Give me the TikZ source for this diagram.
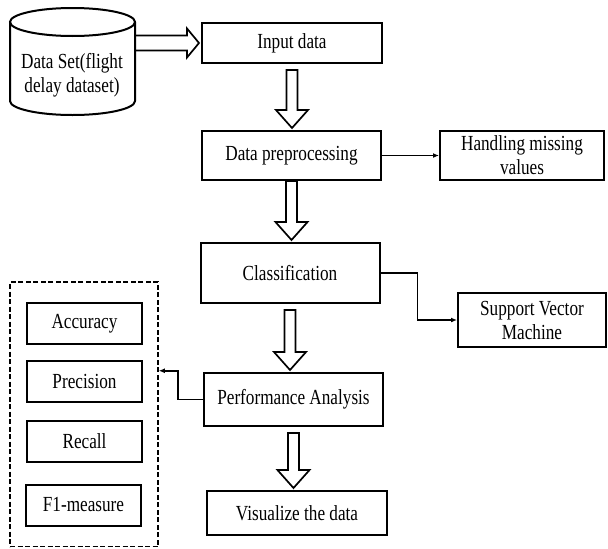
\documentclass[tikz,border=0pt]{standalone}
\usepackage{fontspec}
\setmainfont{Liberation Serif}[FakeStretch=0.8]
\usetikzlibrary{arrows.meta,calc,positioning,fit}
\newcommand{\boxfont}{\fontsize{21.5}{24}\selectfont}
% hollow block arrow pointing down, from #2 to #3 (#1 = gap under #2)
\newcommand{\fatdown}[3][6]{%
  \coordinate (ftip) at (#2.south |- #3.north);
  \draw[fat] ($(#2.south)+(-5.5,#1)$) -- ($(ftip)+(-5.5,-20)$) -- ($(ftip)+(-16,-20)$)
    -- ($(ftip)+(0,-2)$) -- ($(ftip)+(16,-20)$) -- ($(ftip)+(5.5,-20)$)
    -- ($(#2.south)+(5.5,#1)$) -- cycle;}

\begin{document}
\begin{tikzpicture}[x=1pt,y=-1pt,
    box/.style={draw,line width=2pt,font=\boxfont,align=center,inner sep=2pt},
    mbox/.style={box,minimum width=115pt,minimum height=41pt},
    fat/.style={line width=1.7pt,line join=miter},
    link/.style={line width=1.8pt,-{Latex[length=6pt,width=5pt]}}]
  \useasboundingbox (0,0) rectangle (608,549);

  % data source
  \draw[line width=2pt] (10,22) -- (10,101) arc[start angle=180,end angle=0,x radius=62.5,y radius=14] -- (135,22);
  \draw[line width=2pt] (72.5,22) ellipse [x radius=62.5,y radius=14];
  \node[font=\boxfont,align=center] (dataset) at (72,75) {Data Set(flight\\delay dataset)};
  \coordinate (dbright) at (135,43);

  % main chain
  \node[box,minimum width=180pt,minimum height=40pt] (input) at (292,43) {Input data};
  \node[box,minimum width=179pt,minimum height=49pt] (prep) at (291.5,155.5) {Data preprocessing};
  \node[box,minimum width=164pt,minimum height=49pt] (handle) at (522,155.5) {Handling missing\\values};
  \node[box,minimum width=179pt,minimum height=60pt] (class) at (290,273) {Classification};
  \node[box,minimum width=148pt,minimum height=54pt] (svm) at (532,320) {Support Vector\\Machine};
  \node[box,minimum width=179pt,minimum height=53pt] (perf) at (293.5,399.5) {Performance Analysis};
  \node[box,minimum width=180pt,minimum height=44pt] (vis) at (297,513) {Visualize the data};

  % metrics
  \node[mbox] (acc) at (84.5,323.5) {Accuracy};
  \node[mbox] (prec) at (84.5,381.5) {Precision};
  \node[mbox] (rec) at (84.5,441) {Recall};
  \node[mbox] (fone) at (83.5,505) {F1-measure};
  \node[draw,line width=1.5pt,dash pattern=on 5pt off 2.5pt,inner xsep=15pt,inner ysep=20pt,fit=(acc)(fone)] (metrics) {};

  % block arrows
  \draw[fat] ($(dbright)+(0,-7.5)$) -- ($(input.west)+(-14,-7.5)$) -- ($(input.west)+(-14,-14.5)$)
    -- ($(input.west)+(-2,0)$) -- ($(input.west)+(-14,14.5)$) -- ($(input.west)+(-14,7.5)$)
    -- ($(dbright)+(0,7.5)$);
  \fatdown{input}{prep}
  \fatdown[0]{prep}{class}
  \fatdown{class}{perf}
  \fatdown{perf}{vis}

  % side links
  \draw[link] (prep.east) -- (handle.west);
  \draw[link] (class.east) -- ++(37,0) |- (svm.west);
  \draw[link] (perf.west) -- ++(-25,0) |- ([yshift=43.5pt]metrics.east);
\end{tikzpicture}
\end{document}
